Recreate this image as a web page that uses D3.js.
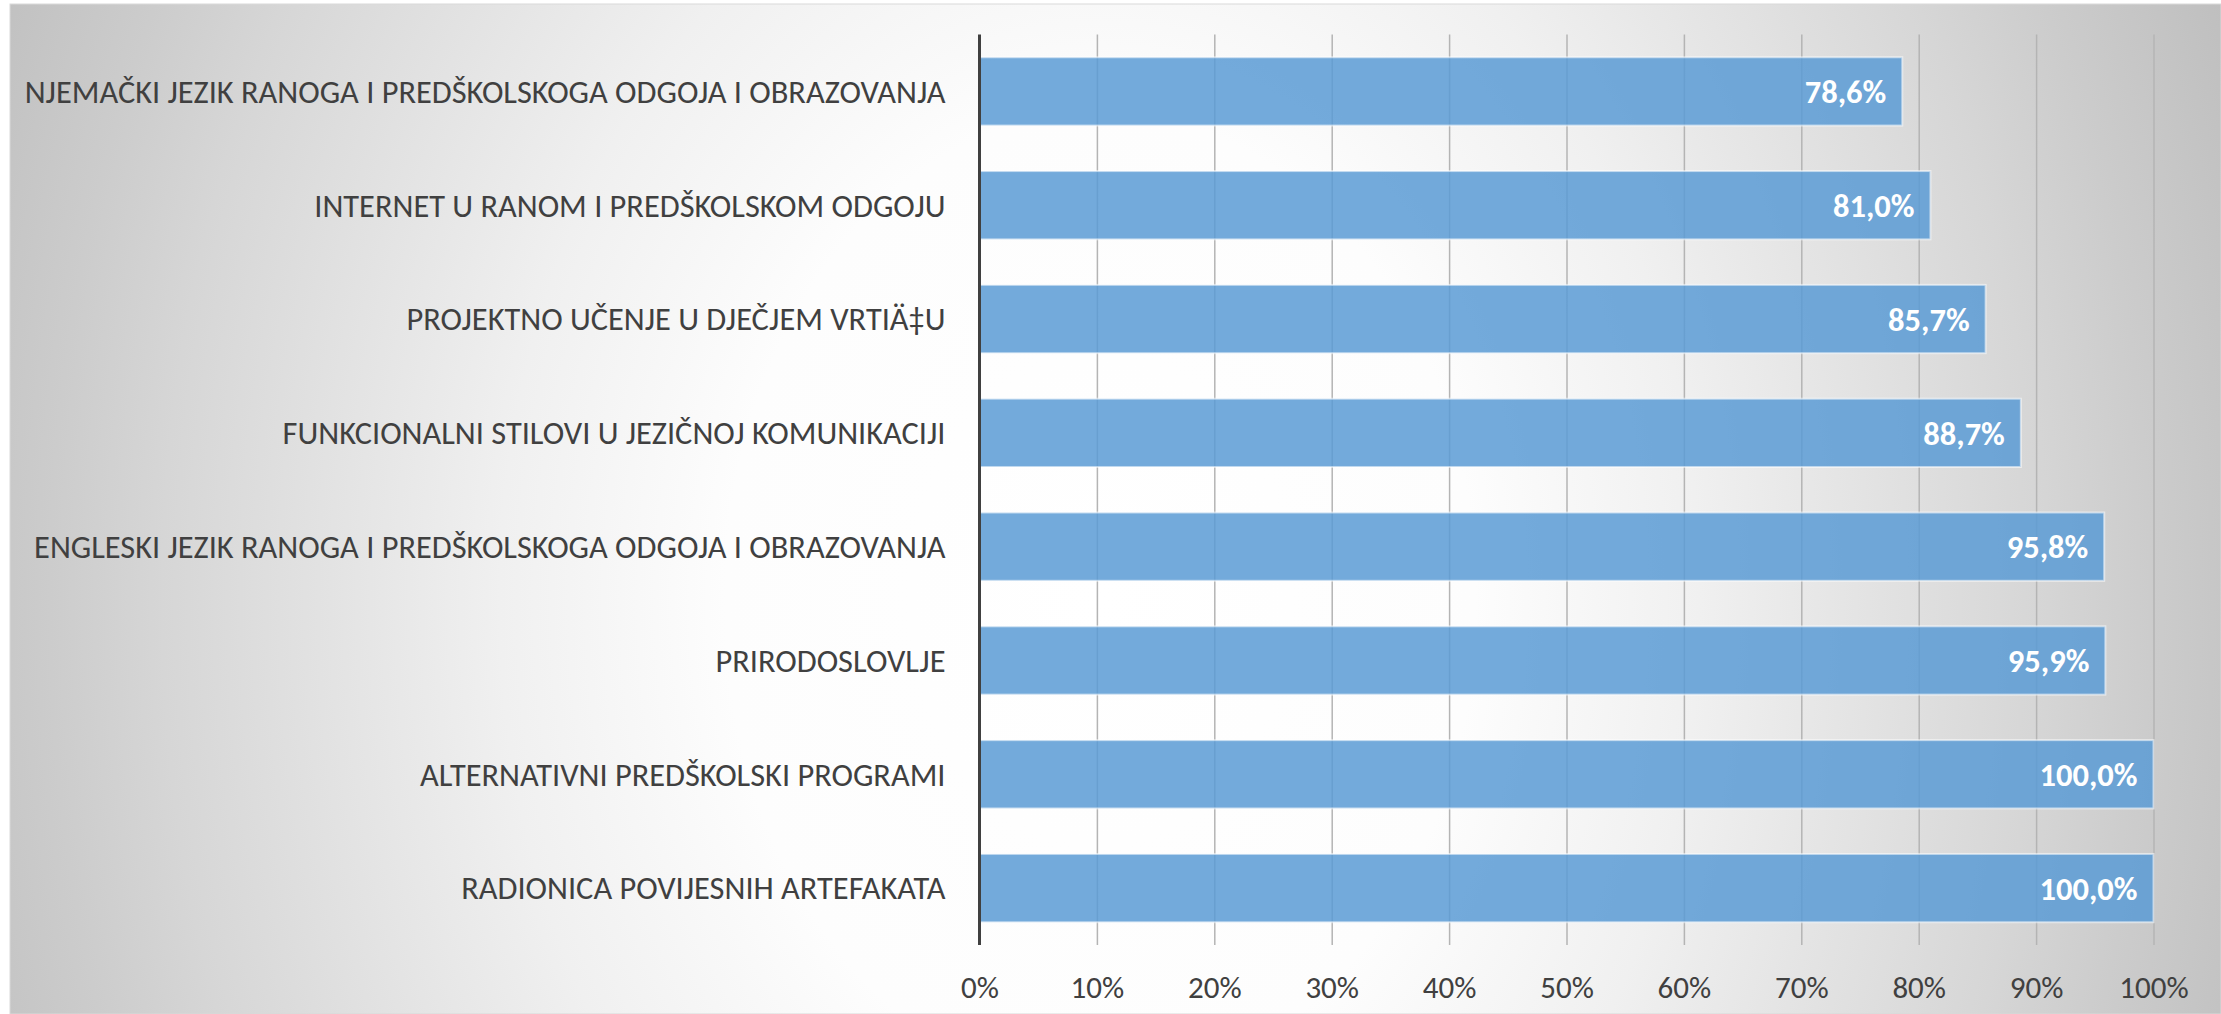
<!DOCTYPE html>
<html>
<head>
<meta charset="utf-8">
<script src="https://cdn.jsdelivr.net/npm/d3@7/dist/d3.min.js"></script>
<style>
  html, body { margin: 0; padding: 0; background: #ffffff; }
  svg { display: block; }
</style>
</head>
<body>
<svg id="chart" width="2221" height="1014"></svg>
<script>
// ---- data ----
const categories = [
  "NJEMAČKI JEZIK RANOGA I PREDŠKOLSKOGA ODGOJA I OBRAZOVANJA",
  "INTERNET U RANOM I PREDŠKOLSKOM ODGOJU",
  "PROJEKTNO UČENJE U DJEČJEM VRTIÄ‡U",
  "FUNKCIONALNI STILOVI U JEZIČNOJ KOMUNIKACIJI",
  "ENGLESKI JEZIK RANOGA I PREDŠKOLSKOGA ODGOJA I OBRAZOVANJA",
  "PRIRODOSLOVLJE",
  "ALTERNATIVNI PREDŠKOLSKI PROGRAMI",
  "RADIONICA POVIJESNIH ARTEFAKATA"
];
const values = [78.6, 81.0, 85.7, 88.7, 95.8, 95.9, 100.0, 100.0];
const tickValues = [0, 10, 20, 30, 40, 50, 60, 70, 80, 90, 100];
const tickLabels = ["0%", "10%", "20%", "30%", "40%", "50%", "60%", "70%", "80%", "90%", "100%"];

// ---- layout ----
const W = 2221, H = 1014;
const plot = { left: 979.5, right: 2153.5, top: 34.5, bottom: 945 };
const FONT = "Carlito, Lato, 'Open Sans', 'Liberation Sans', sans-serif";

const svg = d3.select("#chart");
const defs = svg.append("defs");

// background radial gradient (white centre, grey edges)
const cx = 1100, cy = 600;
const bg = defs.append("radialGradient")
  .attr("id", "bgGrad")
  .attr("gradientUnits", "userSpaceOnUse")
  .attr("cx", cx).attr("cy", cy).attr("r", 1250)
  .attr("fx", cx).attr("fy", cy)
  .attr("gradientTransform", `translate(${cx},${cy}) scale(1,1.3) translate(${-cx},${-cy})`);
[[0, "#ffffff"], [0.3, "#fdfdfd"], [0.48, "#f0f0f0"], [0.75, "#d6d6d6"], [0.84, "#cccccc"], [1, "#bcbcbc"]]
  .forEach(([o, c]) => bg.append("stop").attr("offset", o).attr("stop-color", c));

svg.append("rect")
  .attr("x", 10).attr("y", 4).attr("width", W - 10).attr("height", H - 4)
  .attr("fill", "url(#bgGrad)")
  .attr("stroke", "#d9d9d9").attr("stroke-width", 1);

// scales
const x = d3.scaleLinear().domain([0, 100]).range([plot.left, plot.right]);
const y = d3.scaleBand().domain(categories).range([plot.top, plot.bottom])
  .paddingInner(0.4).paddingOuter(0.2);

// gridlines
svg.append("g")
  .attr("transform", `translate(0,${plot.bottom})`)
  .call(d3.axisBottom(x).tickValues(tickValues.slice(1)).tickSize(-(plot.bottom - plot.top)).tickFormat(""))
  .call(g => g.select(".domain").remove())
  .call(g => g.selectAll(".tick line").attr("stroke", "#b4b4b4").attr("stroke-width", 1.5));

// bars
svg.append("g").selectAll("rect")
  .data(values)
  .join("rect")
  .attr("x", x(0))
  .attr("y", (d, i) => y(categories[i]))
  .attr("width", d => x(d) - x(0))
  .attr("height", y.bandwidth())
  .attr("fill", "#5b9bd5")
  .attr("fill-opacity", 0.85)
  .attr("stroke", "#ffffff")
  .attr("stroke-opacity", 0.55)
  .attr("stroke-width", 2);

// tick labels (x axis)
const xAxis = svg.append("g")
  .attr("transform", `translate(0,${plot.bottom})`)
  .call(d3.axisBottom(x).tickValues(tickValues).tickSize(0).tickPadding(0)
    .tickFormat((d, i) => tickLabels[i]));
xAxis.select(".domain").remove();
xAxis.selectAll("text")
  .attr("y", 53)
  .attr("dy", 0)
  .attr("fill", "#404040")
  .style("font-family", FONT)
  .style("font-size", "31px");

// category axis
const yAxis = svg.append("g")
  .attr("transform", `translate(${plot.left},0)`)
  .call(d3.axisLeft(y).tickSize(0).tickPadding(34));
yAxis.select(".domain")
  .attr("stroke", "#404040").attr("stroke-width", 3)
  .attr("d", `M0,${plot.top}V${plot.bottom}`);
yAxis.selectAll("text")
  .attr("fill", "#404040")
  .attr("dy", "0.35em")
  .style("font-family", FONT)
  .style("font-size", "32.4px");

// data labels
svg.append("g").selectAll("text")
  .data(values)
  .join("text")
  .attr("x", d => x(d) - 16)
  .attr("y", (d, i) => y(categories[i]) + y.bandwidth() / 2)
  .attr("dy", "0.36em")
  .attr("text-anchor", "end")
  .attr("fill", "#ffffff")
  .style("font-family", FONT)
  .style("font-weight", "bold")
  .style("font-size", "32.5px")
  .text(d => d3.format(".1f")(d).replace(".", ",") + "%");
</script>
</body>
</html>
